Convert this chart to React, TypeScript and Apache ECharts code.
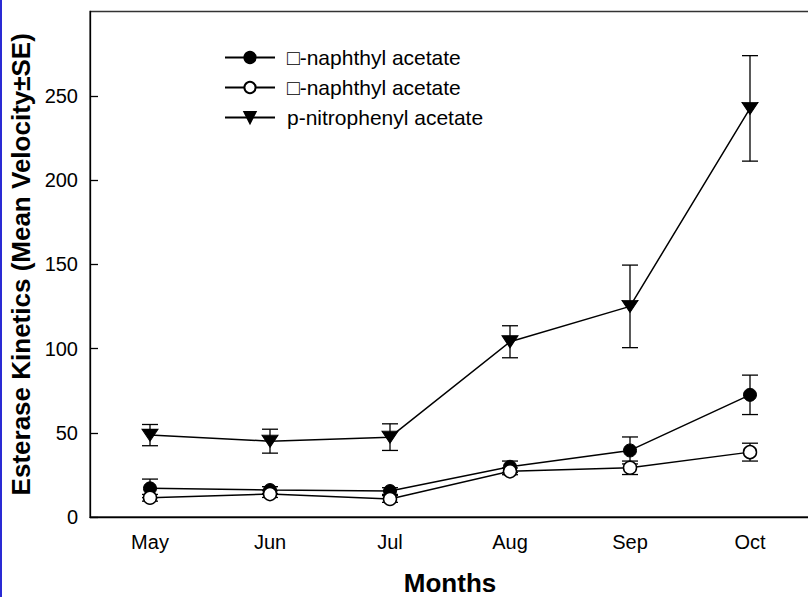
import React, { useEffect, useRef } from "react";
import * as echarts from "echarts";

const months = ["May", "Jun", "Jul", "Aug", "Sep", "Oct"];
const alphaMean = [17, 16, 15.4, 29.8, 39.5, 72.5];
const alphaSE = [5.5, 2, 2, 3.4, 8, 11.7];
const betaMean = [11.4, 13.6, 10.7, 27.1, 29.2, 38.5];
const betaSE = [2, 2, 2, 2, 4, 5.3];
const pnpMean = [48.6, 45, 47.4, 104, 125, 242.5];
const pnpSE = [6.3, 7.1, 7.9, 9.5, 24.5, 31.3];
const yTicks = { min: 0, max: 300, interval: 50 };

const NAME_A = "α-naphthyl acetate";
const NAME_B = "β-naphthyl acetate";
const NAME_P = "p-nitrophenyl acetate";
const displayNames: Record<string, string> = {
  [NAME_A]: "□-naphthyl acetate",
  [NAME_B]: "□-naphthyl acetate",
  [NAME_P]: "p-nitrophenyl acetate",
};

const FONT = "'Liberation Sans', Arial, sans-serif";

function errData(mean: number[], se: number[]) {
  return mean.map((m, i) => [i, m - se[i], m + se[i]]);
}

function errSeries(mean: number[], se: number[]) {
  return {
    type: "custom",
    silent: true,
    z: 1,
    encode: { x: 0, y: [1, 2] },
    data: errData(mean, se),
    renderItem: (params: any, api: any) => {
      const x = api.value(0);
      const lo = api.coord([x, api.value(1)]);
      const hi = api.coord([x, api.value(2)]);
      const w = 8;
      const style = { stroke: "#000", lineWidth: 1.3 };
      return {
        type: "group",
        children: [
          { type: "line", shape: { x1: lo[0], y1: lo[1], x2: hi[0], y2: hi[1] }, style },
          { type: "line", shape: { x1: lo[0] - w, y1: lo[1], x2: lo[0] + w, y2: lo[1] }, style },
          { type: "line", shape: { x1: hi[0] - w, y1: hi[1], x2: hi[0] + w, y2: hi[1] }, style },
        ],
      };
    },
  };
}

export default function App() {
  const ref = useRef<HTMLDivElement>(null);
  useEffect(() => {
    if (!ref.current) return;
    const chart = echarts.init(ref.current, null, { renderer: "svg" });
    chart.setOption({
      animation: false,
      backgroundColor: "#fff",
      textStyle: { fontFamily: FONT },
      graphic: [
        { type: "rect", shape: { x: 0, y: 0, width: 2, height: 597 }, style: { fill: "#2a2ad4" } },
      ],
      grid: {
        left: 90,
        top: 11.5,
        width: 720,
        bottom: 80,
        containLabel: false,
        outerBoundsMode: "none",
        show: true,
        borderColor: "#333",
        borderWidth: 1.3,
        backgroundColor: "transparent",
      },
      legend: {
        orient: "vertical",
        left: 224,
        top: 47,
        padding: 0,
        itemWidth: 50,
        itemHeight: 14,
        itemGap: 9,
        formatter: (n: string) => displayNames[n] || n,
        textStyle: { fontSize: 21, color: "#000", fontFamily: FONT, padding: [0, 0, 0, 7] },
        data: [NAME_A, NAME_B, NAME_P],
      },
      xAxis: {
        type: "category",
        data: months,
        boundaryGap: true,
        name: "Months",
        nameLocation: "middle",
        nameGap: 53,
        nameTextStyle: { fontSize: 26, fontWeight: "bold", color: "#000", fontFamily: FONT },
        axisLine: { lineStyle: { color: "#000", width: 1.3 } },
        axisTick: { inside: true, length: 8, alignWithLabel: true, lineStyle: { color: "#000", width: 1.3 } },
        axisLabel: { fontSize: 20, color: "#000", margin: 15, fontFamily: FONT },
        splitLine: { show: false },
      },
      yAxis: {
        type: "value",
        min: yTicks.min,
        max: yTicks.max,
        interval: yTicks.interval,
        name: "Esterase Kinetics (Mean Velocity±SE)",
        nameLocation: "middle",
        nameGap: 41,
        nameTextStyle: { fontSize: 26, fontWeight: "bold", color: "#000", fontFamily: FONT },
        axisLine: { show: true, lineStyle: { color: "#000", width: 1.3 } },
        axisTick: { show: true, inside: true, length: 8, lineStyle: { color: "#000", width: 1.3 } },
        axisLabel: { fontSize: 20, color: "#000", margin: 12, showMaxLabel: false, fontFamily: FONT },
        splitLine: { show: false },
      },
      series: [
        errSeries(alphaMean, alphaSE),
        errSeries(betaMean, betaSE),
        errSeries(pnpMean, pnpSE),
        {
          name: NAME_A,
          type: "line",
          data: alphaMean,
          z: 3,
          symbol: "circle",
          symbolSize: 13,
          lineStyle: { color: "#000", width: 1.5 },
          itemStyle: { color: "#000", borderColor: "#000", borderWidth: 1 },
        },
        {
          name: NAME_B,
          type: "line",
          data: betaMean,
          z: 4,
          symbol: "circle",
          symbolSize: 13,
          lineStyle: { color: "#000", width: 1.5 },
          itemStyle: { color: "#fff", borderColor: "#000", borderWidth: 1.5 },
        },
        {
          name: NAME_P,
          type: "line",
          data: pnpMean,
          z: 3,
          symbol: "triangle",
          symbolRotate: 180,
          symbolSize: [16, 12],
          lineStyle: { color: "#000", width: 1.5 },
          itemStyle: { color: "#000", borderColor: "#000", borderWidth: 1 },
        },
      ],
    });
    return () => chart.dispose();
  }, []);
  return (
    <div
      ref={ref}
      style={{ position: "absolute", left: 0, top: 0, width: 808, height: 597 }}
    />
  );
}
